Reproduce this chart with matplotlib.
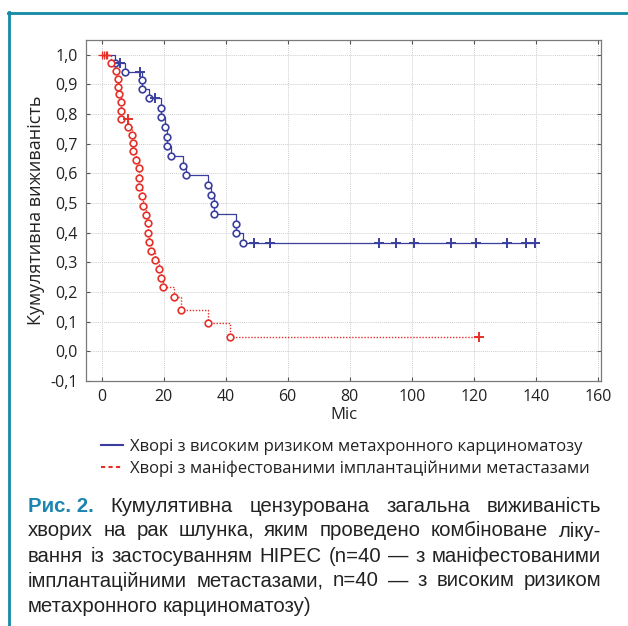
import matplotlib
matplotlib.use('Agg')
import matplotlib.pyplot as plt
from matplotlib.lines import Line2D

# blue: high risk of metachronous carcinomatosis
blue_event_t = [4.4, 7.5, 13.1, 13.1, 15.3, 19.1, 19.1, 20.4, 21.2, 21.2, 22.5, 26.3, 27.3,
                34.3, 35.3, 36.3, 36.3, 43.2, 43.2, 45.5]
blue_event_s = [0.973, 0.943, 0.915, 0.886, 0.853, 0.822, 0.789, 0.755, 0.724, 0.692, 0.659,
                0.625, 0.594, 0.561, 0.527, 0.496, 0.463, 0.430, 0.398, 0.365]
blue_cens_t = [6.1, 12.3, 17.4, 49.3, 54.4, 89.6, 94.8, 100.6, 112.7, 120.8, 130.8, 136.9, 139.8]
blue_cens_s = [0.973, 0.943, 0.853, 0.365, 0.365, 0.365, 0.365, 0.365, 0.365, 0.365, 0.365,
               0.365, 0.365]

# red: manifested implantation metastases
red_event_t = [3.0, 4.7, 5.2, 5.2, 5.7, 6.2, 6.2, 6.2, 8.6, 9.8, 10.1, 10.3, 11.1, 12.2, 12.2,
               12.2, 13.1, 13.5, 14.3, 15.0, 15.0, 15.3, 16.1, 17.3, 18.6, 19.1, 19.7, 23.4,
               25.7, 34.2, 41.4]
red_event_s = [0.973, 0.945, 0.919, 0.891, 0.867, 0.840, 0.812, 0.785, 0.757, 0.730, 0.702,
               0.675, 0.645, 0.617, 0.586, 0.554, 0.524, 0.491, 0.461, 0.432, 0.400, 0.370,
               0.339, 0.308, 0.278, 0.247, 0.217, 0.182, 0.139, 0.094, 0.049]
red_cens_t = [0.3, 0.8, 1.3, 1.8, 8.4, 121.7]
red_cens_s = [1.0, 1.0, 1.0, 1.0, 0.785, 0.049]

x_ticks = [0, 20, 40, 60, 80, 100, 120, 140, 160]
y_ticks = [-0.1, 0.0, 0.1, 0.2, 0.3, 0.4, 0.5, 0.6, 0.7, 0.8, 0.9, 1.0]

legend_labels = ['Хворі з високим ризиком метахронного карциноматозу',
                 'Хворі з маніфестованими імплантаційними метастазами']
caption_head = 'Рис. 2.'
caption_lines = [
    'Кумулятивна цензурована загальна виживаність',
    'хворих на рак шлунка, яким проведено комбіноване ліку-',
    'вання із застосуванням HIPEC (n=40 — з маніфестованими',
    'імплантаційними метастазами, n=40 — з високим ризиком',
    'метахронного карциноматозу)',
]

BLUE = '#3a3f9e'
RED = '#e5302a'
TEAL = '#138aa6'
W, H = 628, 626

plt.rcParams['font.family'] = ['Open Sans', 'DejaVu Sans']

fig = plt.figure(figsize=(W / 100, H / 100), dpi=100)
ax = fig.add_axes([86 / W, 1 - 381 / H, 515 / W, 341 / H])


def step_xy(ev_t, ev_s, end_t):
    xs = [0] + list(ev_t) + [end_t]
    ys = [1.0] + list(ev_s) + [ev_s[-1]]
    return xs, ys


bx, by = step_xy(blue_event_t, blue_event_s, blue_cens_t[-1])
rx, ry = step_xy(red_event_t, red_event_s, red_cens_t[-1])

ax.step(bx, by, where='post', color=BLUE, lw=0.9, zorder=3)
ax.step(rx, ry, where='post', color=RED, lw=1.0, ls=(0, (1, 1.2)), zorder=3)

ax.plot(blue_event_t, blue_event_s, 'o', ms=4.8, mfc='white', mec=BLUE, mew=1.2, zorder=4)
ax.plot(blue_cens_t, blue_cens_s, '+', ms=7, mec=BLUE, mew=1.4, zorder=4)
ax.plot(red_event_t, red_event_s, 'o', ms=4.8, mfc='white', mec=RED, mew=1.2, zorder=4)
ax.plot(red_cens_t[:4], red_cens_s[:4], '+', ms=6, mec=RED, mew=0.9, zorder=4)
ax.plot(red_cens_t[4:], red_cens_s[4:], '+', ms=7, mec=RED, mew=1.4, zorder=4)

ax.set_xlim(-5, 161)
ax.set_ylim(-0.1, 1.05)
ax.set_xticks(x_ticks)
ax.set_yticks(y_ticks)
ax.set_yticklabels([('%.1f' % v).replace('.', ',') for v in y_ticks])
ax.tick_params(direction='in', length=3, width=0.8, color='#555', labelsize=11.5,
               labelcolor='#222', top=True, right=True, pad=6)
ax.grid(True, color='#cfcfcf', ls=(0, (1, 1)), lw=0.7)
for s in ax.spines.values():
    s.set_color('#7a7a7a')
    s.set_linewidth(0.9)
ax.set_xlabel('Міс', fontsize=12, color='#222', labelpad=1)
ax.set_ylabel('Кумулятивна виживаність', fontsize=13, color='#222', labelpad=4)

handles = [Line2D([], [], color=BLUE, lw=1.5),
           Line2D([], [], color=RED, lw=1.5, ls=(0, (2, 1.6)))]
fig.legend(handles, legend_labels, loc='upper left', bbox_to_anchor=(86 / W, 1 - 424 / H),
           frameon=False, fontsize=12, handlelength=1.3, handletextpad=0.45,
           labelspacing=0.3, labelcolor='#222')

# frame
fig.add_artist(Line2D([8 / W, 1], [1 - 12.5 / H, 1 - 12.5 / H], color=TEAL, lw=2))
fig.add_artist(Line2D([9 / W, 9 / W], [0, 1 - 11.5 / H], color=TEAL, lw=2))

# caption, justified between x0 and x1
cap_font = ['Liberation Sans Narrow', 'Liberation Sans', 'DejaVu Sans']
x0, x1 = 28, 601
y_rows = [506, 531, 556, 581, 606]
r = fig.canvas.get_renderer()

# pick a size so the widest line still fits with normal spaces
probe = fig.text(0, 0, '', fontsize=10, family=cap_font)
full = [caption_head + ' ' + caption_lines[0]] + caption_lines[1:4]
widest = 0
for s in full:
    probe.set_text(s)
    widest = max(widest, probe.get_window_extent(r).width)
probe.remove()
cap_size = 10 * (x1 - x0) / widest * 0.99

for i, line in enumerate(caption_lines):
    items = []
    if i == 0:
        items.append(fig.text(0, 0, caption_head, fontsize=cap_size, family=cap_font,
                              weight='bold', color='#1c86b0', va='center'))
    for w in line.split(' '):
        items.append(fig.text(0, 0, w, fontsize=cap_size, family=cap_font, color='#222',
                              va='center'))
    widths = [t.get_window_extent(r).width for t in items]
    if i < len(caption_lines) - 1:
        gap = (x1 - x0 - sum(widths)) / (len(items) - 1)
    else:
        gap = cap_size * 0.3
    x = x0
    for t, w in zip(items, widths):
        t.set_position((x / W, 1 - y_rows[i] / H))
        x += w + gap

fig.savefig('out.png', dpi=100)
